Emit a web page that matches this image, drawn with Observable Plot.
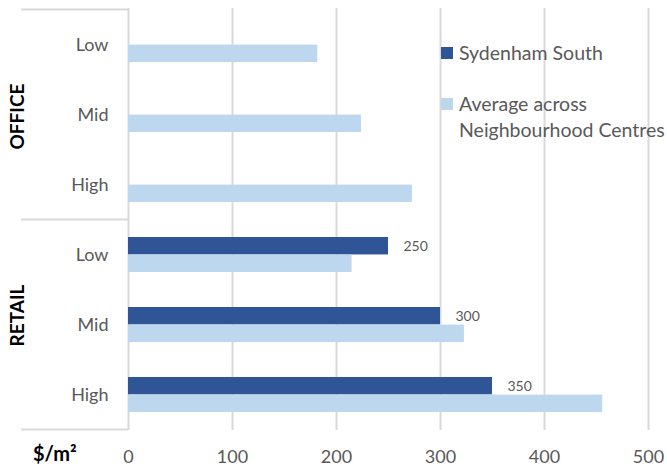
<!DOCTYPE html>
<html>
<head>
<meta charset="utf-8">
<script src="https://cdn.jsdelivr.net/npm/d3@7"></script>
<script src="https://cdn.jsdelivr.net/npm/@observablehq/plot@0.6"></script>
<style>
  html, body { margin: 0; padding: 0; background: #fff; }
  #wrap { position: relative; width: 667px; height: 468px; font-family: Lato, sans-serif; }
  .legend { position: absolute; left: 441px; top: 40px; color: #595959; font-size: 19.5px; line-height: 26px; white-space: nowrap; }
  .item { position: relative; padding-left: 18px; }
  .sw { position: absolute; left: 0; width: 12px; height: 12px; }
</style>
</head>
<body>
<div id="wrap"></div>
<script>
// ---- data ----
const groups = ["OFFICE", "RETAIL"];
const levels = ["Low", "Mid", "High"];
const seriesNames = ["Sydenham South", "Average across\nNeighbourhood Centres"];
const sydenhamSouth = [null, null, null, 250, 300, 350];
const averageNC = [182, 224, 273, 215, 323, 456];
const xTicks = [0, 100, 200, 300, 400, 500];
const colors = ["#2F5597", "#BDD7EE"];

const keys = groups.flatMap(g => levels.map(l => g + " " + l));
const rows = keys.map((k, i) => ({key: k, group: k.split(" ")[0], level: k.split(" ")[1], syd: sydenhamSouth[i], avg: averageNC[i]}));
const sydRows = rows.filter(d => d.syd != null);

const W = 667, H = 468, mT = 8, mB = 38, mL = 128, mR = 19;
const step = (H - mT - mB) / keys.length;
const half = step * 0.5 / 2;

const plot = Plot.plot({
  width: W, height: H,
  marginTop: mT, marginBottom: mB, marginLeft: mL, marginRight: mR,
  style: {fontFamily: "Lato, sans-serif", fontSize: "18px", color: "#595959", background: "#fff"},
  x: {domain: [0, 500], ticks: xTicks, tickSize: 0, tickPadding: 20, label: null},
  y: {domain: keys, tickFormat: d => d.split(" ")[1], tickSize: 0, tickPadding: 20, label: null, paddingInner: 0.5, paddingOuter: 0.25},
  marks: [
    Plot.ruleX(xTicks, {x: d => d, stroke: "#d9d9d9", strokeWidth: 2}),
    Plot.barX(sydRows, {x: "syd", y: "key", fill: colors[0], insetBottom: half}),
    Plot.barX(rows, {x: "avg", y: "key", fill: colors[1], insetTop: half}),
    Plot.text(sydRows, {x: "syd", y: "key", text: d => String(d.syd), dy: -half / 2, dx: 15, textAnchor: "start", fill: "#595959", fontSize: 14})
  ]
});

const wrap = document.getElementById("wrap");
wrap.appendChild(plot);

// group separators and group labels in the left margin
const ys = plot.scale("y");
const svg = d3.select(plot);
const gap = (ys.step - ys.bandwidth) / 2;
const labelShift = [2, -9];
const edges = [];
groups.forEach((g, gi) => {
  const first = ys.apply(g + " " + levels[0]) - gap;
  const last = ys.apply(g + " " + levels[levels.length - 1]) + ys.bandwidth + gap;
  if (gi === 0) edges.push(first);
  edges.push(last);
  svg.append("text")
    .attr("transform", `translate(16,${(first + last) / 2 + labelShift[gi]}) rotate(-90)`)
    .attr("text-anchor", "middle").attr("dominant-baseline", "central")
    .attr("font-family", "Lato, sans-serif").attr("font-weight", "bold").attr("font-size", 19)
    .attr("fill", "#000").text(g);
});
edges.forEach(y => {
  svg.append("line").attr("x1", 21).attr("x2", mL).attr("y1", y).attr("y2", y)
    .attr("stroke", "#d9d9d9").attr("stroke-width", 2);
});
svg.append("text").attr("x", 33).attr("y", H - mB + 23)
  .attr("text-anchor", "start")
  .attr("dominant-baseline", "central")
  .attr("font-family", "Lato, sans-serif").attr("font-weight", "bold").attr("font-size", 20)
  .attr("fill", "#000").text("$/m²");

// legend
const legend = document.createElement("div");
legend.className = "legend";
seriesNames.forEach((name, i) => {
  const item = document.createElement("div");
  item.className = "item";
  item.style.marginBottom = i === 0 ? "25px" : "0";
  const sw = document.createElement("span");
  sw.className = "sw";
  sw.style.background = colors[i];
  sw.style.top = "7px";
  item.appendChild(sw);
  name.split("\n").forEach(line => {
    const t = document.createElement("div");
    t.textContent = line;
    item.appendChild(t);
  });
  legend.appendChild(item);
});
wrap.appendChild(legend);
</script>
</body>
</html>
